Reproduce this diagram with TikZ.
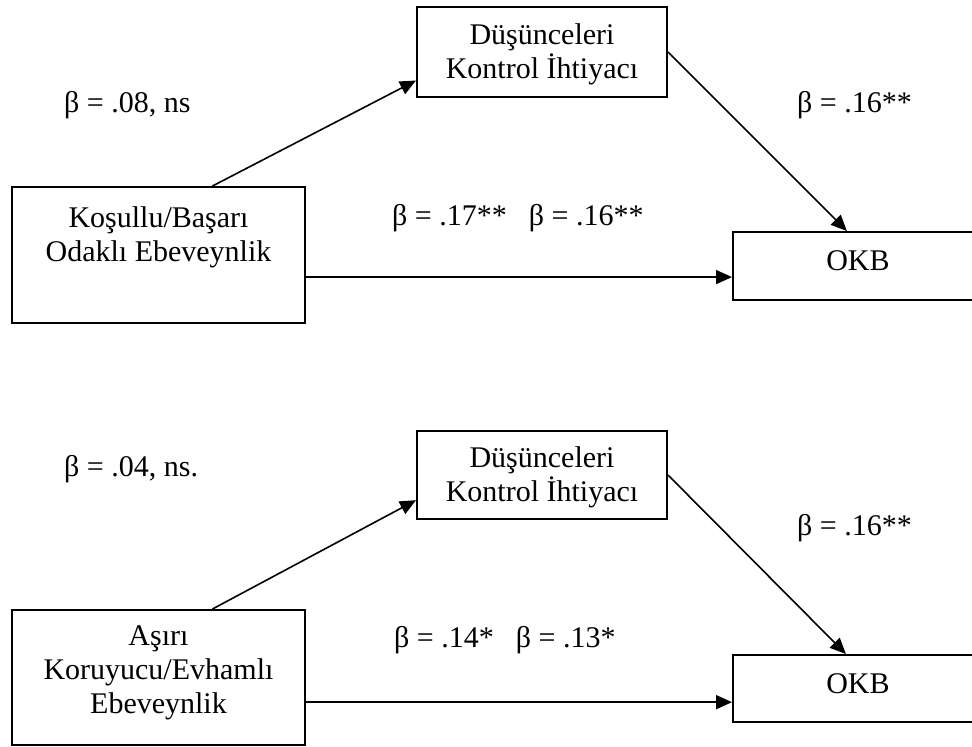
\documentclass[tikz,border=0pt]{standalone}
\usepackage{fontspec}
\setmainfont{Liberation Serif}
\usetikzlibrary{arrows.meta,calc}
\newcommand{\toprule}[1]{\rule{0pt}{#1pt}}
\newcommand{\botrule}[1]{\rule[-#1pt]{0pt}{#1pt}}
\begin{document}
\begin{tikzpicture}[x=1pt,y=-1pt,
  box/.style={draw, line width=2pt, align=center, inner sep=0pt,
    font=\fontsize{30}{34}\selectfont},
  lbl/.style={font=\fontsize{30}{34}\selectfont, inner sep=0pt, anchor=base west},
  conn/.style={line width=1.6pt, -{Triangle[length=16pt,width=14pt]}}]
\useasboundingbox (0,0) rectangle (972,747);
\clip (0,0) rectangle (972,747);
% ---- top model ----
\node[box, minimum width=250pt] (D1) at (542,52)
  {\toprule{37}Düşünceleri\\Kontrol İhtiyacı\botrule{19}};
\node[box, minimum width=293pt] (L1) at (158.5,255)
  {\toprule{40}Koşullu/Başarı\\Odaklı Ebeveynlik\botrule{62}};
\node[box, minimum width=250pt] (O1) at (858,266)
  {\toprule{38}OKB\botrule{30}};
\coordinate (a1) at ($(L1.north west)!0.683!(L1.north east)$);
\coordinate (b1) at ($(D1.north west)!0.81!(D1.south west)$);
\coordinate (c1) at ($(O1.north west)!0.456!(O1.north east)$);
\coordinate (h1) at ($(L1.north east)!0.66!(L1.south east)$);
\draw[conn] (a1) -- (b1);
\draw[conn] (D1.east) -- (c1);
\draw[conn] (h1) -- (O1.west |- h1);
\node[lbl] (t1) at (64,112) {β = .08, ns};
\node[lbl] (t2) at (797,112) {β = .16**};
\node[lbl] (t3) at (392,225) {β = .17**\hspace{22pt}β = .16**};
% ---- bottom model ----
\node[box, minimum width=250pt] (D2) at (542,475)
  {\toprule{36}Düşünceleri\\Kontrol İhtiyacı\botrule{18}};
\node[box, minimum width=293pt] (L2) at (158.5,677.5)
  {\toprule{35}Aşırı\\Koruyucu/Evhamlı\\Ebeveynlik\botrule{32}};
\node[box, minimum width=250pt] (O2) at (858,688.5)
  {\toprule{38}OKB\botrule{29}};
\coordinate (a2) at ($(L2.north west)!0.683!(L2.north east)$);
\coordinate (b2) at ($(D2.north west)!0.78!(D2.south west)$);
\coordinate (c2) at ($(O2.north west)!0.452!(O2.north east)$);
\coordinate (h2) at ($(L2.north east)!0.68!(L2.south east)$);
\draw[conn] (a2) -- (b2);
\draw[conn] (D2.east) -- (c2);
\draw[conn] (h2) -- (O2.west |- h2);
\node[lbl] (t4) at (64,476) {β = .04, ns.};
\node[lbl] (t5) at (797,535) {β = .16**};
\node[lbl] (t6) at (394,647) {β = .14*\hspace{22pt}β = .13*};
\end{tikzpicture}
\end{document}
